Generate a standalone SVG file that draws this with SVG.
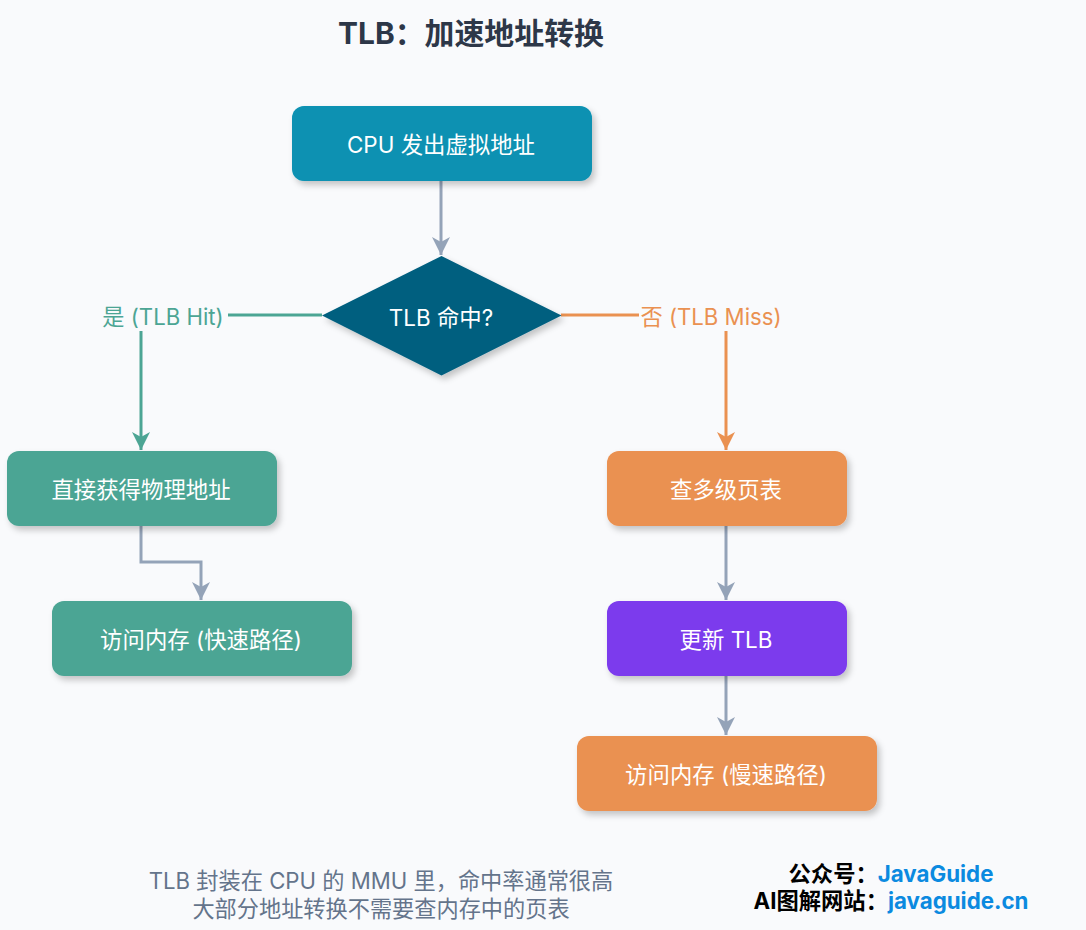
<svg xmlns="http://www.w3.org/2000/svg" width="1086" height="930" viewBox="0 0 1086 930">
<style>
text{font-family:Inter,"Noto Sans CJK SC",sans-serif;text-anchor:middle}
.n{font-size:22.4px;fill:#fff}
.c{fill:none;stroke-width:3}
.g{stroke:#94a3b8}
.t{stroke:#4ca594}
.o{stroke:#ea9151}
.note{font-size:22.2px;fill:#64748b}
.wm{font-size:22.3px;font-weight:700;fill:#000}
.wm tspan{fill:#0b8ae0}
.s{filter:url(#sh)}
</style>
<defs>
<filter id="sh" x="-15%" y="-25%" width="130%" height="160%"><feDropShadow dx="3" dy="4" stdDeviation="3" flood-color="#000" flood-opacity=".22"/></filter>
<marker id="ag" markerUnits="userSpaceOnUse" markerWidth="20" markerHeight="20" refX="18" refY="10" orient="auto"><path d="M0 1L18 10L0 19L5 10Z" fill="#94a3b8"/></marker>
<marker id="at" markerUnits="userSpaceOnUse" markerWidth="20" markerHeight="20" refX="18" refY="10" orient="auto"><path d="M0 1L18 10L0 19L5 10Z" fill="#4ca594"/></marker>
<marker id="ao" markerUnits="userSpaceOnUse" markerWidth="20" markerHeight="20" refX="18" refY="10" orient="auto"><path d="M0 1L18 10L0 19L5 10Z" fill="#ea9151"/></marker>
</defs>
<rect width="1086" height="930" fill="#f9fafc"/>
<text id="title" x="471" y="44" font-size="29.9" font-weight="700" fill="#2d3748">TLB：加速地址转换</text>
<g id="connectors">
<path class="c g" d="M441 181V255" marker-end="url(#ag)"/>
<path class="c t" d="M322 315H228"/>
<path class="c t" d="M141 331V450" marker-end="url(#at)"/>
<path class="c o" d="M561 315H639"/>
<path class="c o" d="M726 331V450" marker-end="url(#ao)"/>
<path class="c g" d="M141 526V562H201V600" marker-end="url(#ag)"/>
<path class="c g" d="M726 526V600" marker-end="url(#ag)"/>
<path class="c g" d="M726 676V735" marker-end="url(#ag)"/>
<text x="163" y="325" font-size="22.2" fill="#4ca594">是 (TLB Hit)</text>
<text x="711" y="325" font-size="22.2" fill="#ea9151">否 (TLB Miss)</text>
</g>
<g id="n1"><rect class="s" x="292" y="106" width="300" height="75" rx="12" fill="#0891b2"/><text class="n" x="441" y="153">CPU 发出虚拟地址</text></g>
<g id="n2"><path class="s" d="M441.500 256L561.500 315.500L441.500 375.500L322 315.500Z" fill="#015f7f"/><text class="n" x="441" y="326">TLB 命中?</text></g>
<g id="n3"><rect class="s" x="7" y="451" width="270" height="75" rx="12" fill="#4ca594"/><text class="n" x="141" y="498">直接获得物理地址</text></g>
<g id="n4"><rect class="s" x="52" y="601" width="300" height="75" rx="12" fill="#4ca594"/><text class="n" x="201" y="648">访问内存 (快速路径)</text></g>
<g id="n5"><rect class="s" x="607" y="451" width="240" height="75" rx="12" fill="#ea9151"/><text class="n" x="726" y="498">查多级页表</text></g>
<g id="n6"><rect class="s" x="607" y="601" width="240" height="75" rx="12" fill="#7c3aed"/><text class="n" x="726" y="648">更新 TLB</text></g>
<g id="n7"><rect class="s" x="577" y="736" width="300" height="75" rx="12" fill="#ea9151"/><text class="n" x="726" y="783">访问内存 (慢速路径)</text></g>
<g id="notes">
<text class="note" x="381" y="889">TLB 封装在 CPU 的 MMU 里，命中率通常很高</text>
<text class="note" x="381" y="917">大部分地址转换不需要查内存中的页表</text>
<text class="wm" x="891" y="882">公众号：<tspan>JavaGuide</tspan></text>
<text class="wm" x="891" y="909">AI图解网站：<tspan>javaguide.cn</tspan></text>
</g>
</svg>
